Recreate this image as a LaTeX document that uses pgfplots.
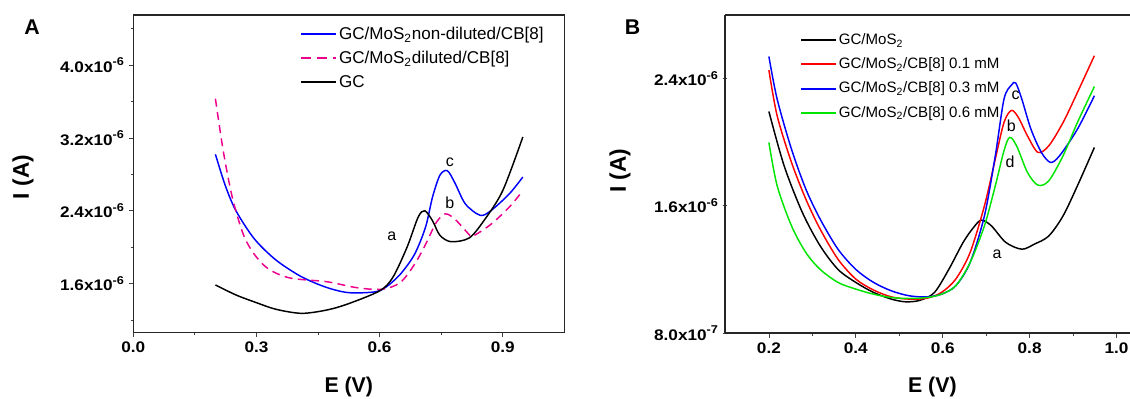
\documentclass[border=0pt]{standalone}
\usepackage{fontspec}
\setmainfont{Liberation Sans}
\newfontfamily\tickfont{Liberation Sans}[FakeStretch=1.12]
\usepackage{pgfplots}
\pgfplotsset{compat=1.18}
\definecolor{mygreen}{rgb}{0,0.9,0}
\definecolor{myred}{rgb}{1,0,0}
\newcommand\sci[2]{#1x10\raisebox{0.8ex}{\fontsize{8.5}{9}\selectfont #2}}
\pgfplotsset{
  myaxis/.style={
    scale only axis, anchor=south west,
    tick align=outside, xtick pos=bottom, ytick pos=left,
    major tick length=3.5pt, minor tick length=2pt,
    tick style={black!75, line width=0.6pt},
    axis line style={-, line width=0.9pt, black!85},
    ticklabel style={font=\tickfont\bfseries\fontsize{11.5}{13}\selectfont},
    legend cell align=left,
    legend style={draw=none, fill=none, inner sep=0pt, nodes={inner xsep=1.5pt}},
    every axis plot/.append style={line width=1.1pt, smooth, tension=0.5, mark=none},
  },
  mylegimg/.style={legend image code/.code={\draw[#1] (0pt,0pt) -- (26pt,0pt);}},
}
\begin{document}
\begin{tikzpicture}
\useasboundingbox (0pt,0pt) rectangle (847.5pt,299.25pt);
% ---------------- Panel A ----------------
\begin{axis}[myaxis, at={(100pt,49.7pt)}, width=323.2pt, height=238.3pt,
  xmin=0, xmax=1.05, ymin=1.06, ymax=4.55,
  xtick={0,0.3,0.6,0.9}, xticklabels={0.0,0.3,0.6,0.9},
  minor xtick={0.15,0.45,0.75},
  ytick={1.6,2.4,3.2,4.0},
  yticklabels={\sci{1.6}{-6},\sci{2.4}{-6},\sci{3.2}{-6},\sci{4.0}{-6}},
  minor ytick={1.2,2.0,2.8,3.6,4.4},
  xlabel={E (V)}, ylabel={I (A)},
  xlabel style={at={(axis description cs:0.5,-0.171)},anchor=center, font=\bfseries\fontsize{16}{19}\selectfont},
  ylabel style={at={(axis description cs:-0.256,0.49)},anchor=center, font=\bfseries\fontsize{17}{20}\selectfont},
  legend style={at={(rel axis cs:0.387,0.972)},anchor=north west,
    font=\fontsize{12.8}{15}\selectfont, row sep=3.4pt}]
\addplot[blue, mylegimg={blue, line width=1.5pt}] coordinates {
(0.2,3.02) (0.224,2.677) (0.25,2.40) (0.295,2.09) (0.348,1.857) (0.41,1.674)
(0.472,1.556) (0.525,1.50) (0.587,1.508) (0.614,1.556) (0.65,1.70) (0.685,1.92)
(0.712,2.22) (0.729,2.55) (0.747,2.79) (0.765,2.84) (0.783,2.71) (0.809,2.475)
(0.845,2.35) (0.871,2.40) (0.916,2.585) (0.949,2.77)};
\addlegendentry{GC/MoS\textsubscript{2}non-diluted/CB[8]}
\addplot[magenta, dash pattern=on 6pt off 4pt, mylegimg={magenta, line width=1.5pt, dash pattern=on 7pt off 5pt}] coordinates {
(0.2,3.63) (0.219,3.06) (0.241,2.55) (0.268,2.14) (0.295,1.92) (0.33,1.758)
(0.383,1.66) (0.472,1.62) (0.543,1.556) (0.605,1.537) (0.65,1.61) (0.685,1.81)
(0.712,2.03) (0.738,2.27) (0.76,2.365) (0.783,2.31) (0.818,2.14) (0.827,2.12)
(0.871,2.25) (0.916,2.44) (0.949,2.62)};
\addlegendentry{GC/MoS\textsubscript{2}diluted/CB[8]}
\addplot[black, mylegimg={black, line width=1.5pt}] coordinates {
(0.2,1.585) (0.25,1.475) (0.3,1.39) (0.348,1.317) (0.41,1.273) (0.472,1.31)
(0.525,1.38) (0.6,1.52) (0.632,1.666) (0.667,2.0) (0.694,2.33) (0.71,2.4)
(0.729,2.29) (0.747,2.13) (0.774,2.06) (0.818,2.1) (0.854,2.29) (0.9,2.62) (0.949,3.21)};
\addlegendentry{GC}
\node[font=\fontsize{12}{14}\selectfont] at (axis cs:0.771,2.935) {c};
\node[font=\fontsize{12}{14}\selectfont] at (axis cs:0.771,2.49) {b};
\node[font=\fontsize{12}{14}\selectfont] at (axis cs:0.63,2.12) {a};
\end{axis}
% ---------------- Panel B ----------------
\begin{axis}[myaxis, at={(543.75pt,49.5pt)}, width=303.75pt, height=238.5pt,
  axis x line=box, axis y line=left, xtick pos=bottom, ytick pos=left,
  y axis line style={-},
  every outer y axis line/.append style={-},
  every inner y axis line/.append style={-},
  xmin=0.099, xmax=1.031, ymin=0.8, ymax=2.8,
  xtick={0.2,0.4,0.6,0.8,1.0}, xticklabels={0.2,0.4,0.6,0.8,1.0},
  minor xtick={0.3,0.5,0.7,0.9},
  ytick={0.8,1.6,2.4},
  yticklabels={\sci{8.0}{-7},\sci{1.6}{-6},\sci{2.4}{-6}},
  minor ytick={1.2,2.0},
  xlabel={E (V)}, ylabel={I (A)},
  xlabel style={at={(axis description cs:0.512,-0.17)},anchor=center, font=\bfseries\fontsize{16}{19}\selectfont},
  ylabel style={at={(axis description cs:-0.259,0.51)},anchor=center, font=\bfseries\fontsize{17}{20}\selectfont},
  legend style={at={(rel axis cs:0.185,0.95)},anchor=north west, font=\fontsize{11.3}{13}\selectfont, row sep=4.4pt}]
\addplot[black, mylegimg={black, line width=1.5pt}] coordinates {
(0.2,2.193) (0.235,1.852) (0.277,1.558) (0.318,1.348) (0.359,1.20) (0.4,1.118)
(0.441,1.055) (0.482,1.013) (0.515,0.996) (0.548,1.006) (0.581,1.055) (0.614,1.20)
(0.647,1.37) (0.671,1.464) (0.689,1.51) (0.712,1.474) (0.745,1.37) (0.782,1.327)
(0.811,1.359) (0.844,1.41) (0.877,1.537) (0.91,1.726) (0.949,1.967)};
\addlegendentry{GC/MoS\textsubscript{2}}
\addplot[myred, mylegimg={myred, line width=1.5pt}] coordinates {
(0.2,2.453) (0.219,2.166) (0.252,1.873) (0.285,1.642) (0.318,1.453) (0.359,1.264)
(0.4,1.139) (0.441,1.07) (0.482,1.027) (0.523,1.013) (0.564,1.019) (0.597,1.055)
(0.63,1.139) (0.663,1.306) (0.696,1.6) (0.721,1.894) (0.741,2.124) (0.758,2.20)
(0.774,2.156) (0.795,2.04) (0.819,1.936) (0.844,1.977) (0.877,2.124) (0.91,2.313) (0.949,2.544)};
\addlegendentry{GC/MoS\textsubscript{2}/CB[8] 0.1 mM}
\addplot[blue, mylegimg={blue, line width=1.5pt}] coordinates {
(0.2,2.539) (0.219,2.271) (0.252,1.956) (0.285,1.705) (0.318,1.516) (0.359,1.327)
(0.4,1.20) (0.441,1.118) (0.482,1.065) (0.523,1.034) (0.564,1.027) (0.597,1.044)
(0.63,1.097) (0.663,1.243) (0.696,1.537) (0.721,1.915) (0.741,2.271) (0.758,2.359)
(0.768,2.372) (0.782,2.271) (0.803,2.082) (0.827,1.936) (0.848,1.873) (0.869,1.915)
(0.91,2.082) (0.949,2.292)};
\addlegendentry{GC/MoS\textsubscript{2}/CB[8] 0.3 mM}
\addplot[mygreen, mylegimg={mygreen, line width=1.5pt}] coordinates {
(0.2,1.998) (0.219,1.726) (0.252,1.474) (0.285,1.306) (0.318,1.20) (0.359,1.118)
(0.4,1.076) (0.441,1.044) (0.482,1.023) (0.523,1.017) (0.564,1.023) (0.597,1.044)
(0.63,1.097) (0.663,1.243) (0.696,1.474) (0.721,1.726) (0.741,1.946) (0.754,2.03)
(0.77,1.977) (0.795,1.81) (0.819,1.73) (0.844,1.757) (0.877,1.915) (0.91,2.124) (0.949,2.35)};
\addlegendentry{GC/MoS\textsubscript{2}/CB[8] 0.6 mM}
\node[font=\fontsize{12}{14}\selectfont] at (axis cs:0.768,2.292) {c};
\node[font=\fontsize{12}{14}\selectfont] at (axis cs:0.758,2.103) {b};
\node[font=\fontsize{12}{14}\selectfont] at (axis cs:0.755,1.879) {d};
\node[font=\fontsize{12}{14}\selectfont] at (axis cs:0.725,1.296) {a};
\end{axis}
\node[font=\bfseries\fontsize{16}{19}\selectfont] at (24pt,278.6pt) {A};
\node[font=\bfseries\fontsize{16}{19}\selectfont] at (474.4pt,278.6pt) {B};
\end{tikzpicture}
\end{document}
